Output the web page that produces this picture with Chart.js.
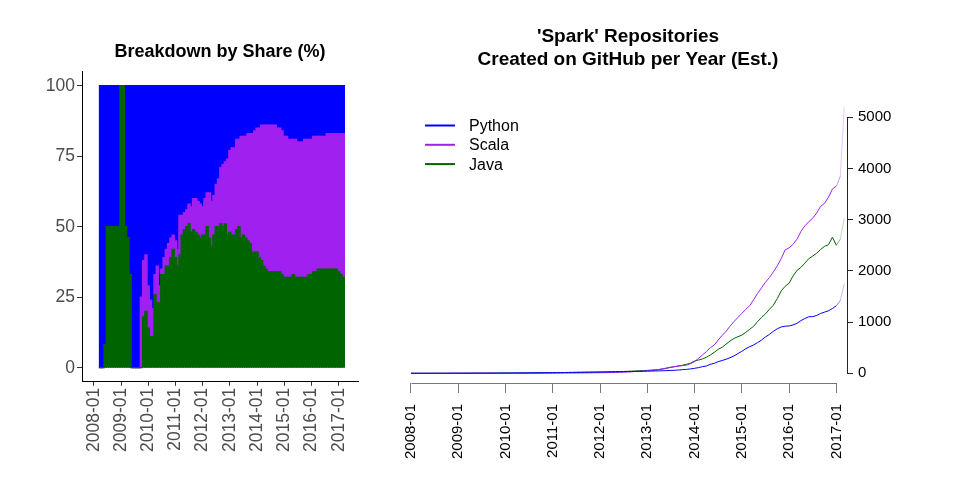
<!DOCTYPE html>
<html>
<head>
<meta charset="utf-8">
<script src="https://cdn.jsdelivr.net/npm/chart.js@4.4.1/dist/chart.umd.min.js"></script>
<style>
html,body{margin:0;padding:0;background:#fff;}
#wrap{position:relative;width:960px;height:480px;overflow:hidden;}
#c1{position:absolute;left:0;top:0;}
#c2{position:absolute;left:296px;top:0;}
</style>
</head>
<body>
<div id="wrap">
<canvas id="c1" width="370" height="480"></canvas>
<canvas id="c2" width="664" height="480"></canvas>
</div>
<script>
// ---------------- DATA ----------------
const months = [
 "2008-01","2008-02","2008-03","2008-04","2008-05","2008-06","2008-07","2008-08","2008-09","2008-10","2008-11","2008-12",
 "2009-01","2009-02","2009-03","2009-04","2009-05","2009-06","2009-07","2009-08","2009-09","2009-10","2009-11","2009-12",
 "2010-01","2010-02","2010-03","2010-04","2010-05","2010-06","2010-07","2010-08","2010-09","2010-10","2010-11","2010-12",
 "2011-01","2011-02","2011-03","2011-04","2011-05","2011-06","2011-07","2011-08","2011-09","2011-10","2011-11","2011-12",
 "2012-01","2012-02","2012-03","2012-04","2012-05","2012-06","2012-07","2012-08","2012-09","2012-10","2012-11","2012-12",
 "2013-01","2013-02","2013-03","2013-04","2013-05","2013-06","2013-07","2013-08","2013-09","2013-10","2013-11","2013-12",
 "2014-01","2014-02","2014-03","2014-04","2014-05","2014-06","2014-07","2014-08","2014-09","2014-10","2014-11","2014-12",
 "2015-01","2015-02","2015-03","2015-04","2015-05","2015-06","2015-07","2015-08","2015-09","2015-10","2015-11","2015-12",
 "2016-01","2016-02","2016-03","2016-04","2016-05","2016-06","2016-07","2016-08","2016-09","2016-10","2016-11","2016-12",
 "2017-01","2017-02","2017-03"
];
const yearTicks = ["2008-01","2009-01","2010-01","2011-01","2012-01","2013-01","2014-01","2015-01","2016-01","2017-01"];
const shareTicks = [0, 25, 50, 75, 100];
const countTicks = [0, 1000, 2000, 3000, 4000, 5000];

// Share (%) per month, 2008-04 .. 2017-03
const shareMonths = months.slice(3);
const javaShare = [
 0,0,8,50,50,50,50,50,50,100,
 100,50,46,33,0,0,0,0,0,18,
 20,14,11,11,26,23,23,33,33,36,
 36,39,42,39,36,40,47,49,50,51,
 48,49,48,47,46,47,47,50,46,43,
 47,50,50,51,50,51,47,48,47,47,
 49,50,46,47,46,45,44,41,41,41,
 39,38,36,35,34,34,34,34,34,34,
 33,32,32,32,32,33,32,32,32,32,
 32,32,33,33,34,34,35,35,35,35,
 35,35,35,35,35,34,33,32
];
const scalaShare = [
 0,0,0,0,0,0,0,0,0,0,
 0,0,0,0,0,0,0,0,25,20,
 20,15,13,10,7,13,6,2,6,6,
 8,7,5,6,6,14,7,6,6,7,
 9,11,12,12,12,10,13,12,16,16,
 14,15,17,20,22,22,27,29,31,31,
 32,31,36,35,36,38,39,42,43,44,
 46,48,50,51,52,52,52,52,51,51,
 51,50,50,49,49,48,49,48,48,48,
 49,49,48,48,48,48,47,47,47,47,
 48,48,48,48,48,49,50,51
];
const pythonShare = [
 100,100,92,50,50,50,50,50,50,0,
 0,50,54,67,100,100,100,100,75,62,
 60,71,76,79,67,64,71,65,61,58,
 56,54,53,55,58,46,46,45,44,42,
 43,40,40,41,42,43,40,38,38,41,
 39,35,33,29,28,27,26,23,22,22,
 19,19,18,18,18,17,17,17,16,15,
 15,14,14,14,14,14,14,14,15,15,
 16,18,18,19,19,19,19,20,20,20,
 19,19,19,19,18,18,18,18,18,18,
 17,17,17,17,17,17,17,17
];

// Repositories created per year (est.), monthly, 2008-01 .. 2017-03
const pythonRepos = [
 1,1,1,1,1,2,2,2,2,2,2,3,
 3,3,3,3,4,4,4,4,5,5,5,6,
 6,6,7,7,8,8,9,10,10,11,12,12,
 13,14,15,16,17,18,19,20,21,22,23,24,
 25,26,27,28,30,31,32,34,35,37,38,40,
 42,44,46,48,50,53,56,60,65,72,78,86,
 98,111,130,143,176,195,228,250,275,305,340,385,
 430,480,520,555,600,650,710,760,820,870,905,920,
 925,945,975,1030,1070,1105,1107,1130,1170,1195,1222,1265,
 1320,1420,1750
];
const scalaRepos = [
 0,0,0,0,0,0,0,0,0,0,0,0,
 0,0,0,0,0,0,0,0,0,0,0,0,
 0,0,0,1,1,1,1,2,2,2,3,3,
 3,4,4,5,5,6,6,7,8,9,10,11,
 12,13,14,16,18,20,22,26,30,36,42,46,
 50,57,65,75,90,105,120,132,142,150,160,190,
 228,293,358,423,501,553,651,740,820,920,1010,1090,
 1170,1250,1320,1440,1560,1670,1780,1870,1980,2100,2240,2410,
 2450,2520,2620,2770,2880,2960,3030,3130,3260,3320,3440,3600,
 3655,3850,5200
];
const javaRepos = [
 0,0,0,0,1,1,1,1,1,1,2,2,
 2,2,3,3,3,3,4,4,4,5,5,5,
 6,6,6,7,7,8,8,9,9,10,11,12,
 13,14,15,16,17,18,19,20,21,22,23,24,
 25,27,29,31,33,35,37,40,43,46,50,53,
 57,62,68,75,85,100,118,130,145,160,178,200,
 241,260,280,313,358,410,469,508,570,630,680,715,
 745,800,860,920,1010,1090,1160,1250,1330,1460,1610,1700,
 1760,1900,2010,2070,2150,2240,2290,2345,2420,2480,2510,2660,
 2500,2620,3030
];

// ---------------- HELPERS ----------------
function monthIndex(s){ const p = s.split('-').map(Number); return (p[0]-2008)*12 + (p[1]-1); }
function pts(cats, vals){ return vals.map((v,i)=>({x: monthIndex(cats[i]), y: v})); }
function rgba(hex, a){
  const n = parseInt(hex.slice(1),16);
  return `rgba(${(n>>16)&255},${(n>>8)&255},${n&255},${a})`;
}
const FONT = "'Liberation Sans', Arial, Helvetica, sans-serif";
const BLUE = '#0000FF', PURPLE = '#A020F0', GREEN = '#006400';

// ---------------- LEFT: share chart ----------------
new Chart(document.getElementById('c1'), {
  type: 'bar',
  data: {
    datasets: [
      {label:'Java',   data: pts(shareMonths, javaShare),   backgroundColor: GREEN},
      {label:'Scala',  data: pts(shareMonths, scalaShare),  backgroundColor: PURPLE},
      {label:'Python', data: pts(shareMonths, pythonShare), backgroundColor: BLUE}
    ]
  },
  options: {
    responsive: false, animation: false, devicePixelRatio: 1,
    layout: {padding: {left: 0, right: 12, top: 0, bottom: 0}},
    datasets: {bar: {barPercentage: 1, categoryPercentage: 1, borderWidth: 0, inflateAmount: 0.6}},
    plugins: {
      legend: {display: false}, tooltip: {enabled: false},
      title: {
        display: true, text: 'Breakdown by Share (%)', fullSize: false, color: '#000',
        font: {family: FONT, size: 18, weight: 'bold', lineHeight: 1.2},
        padding: {top: 41.2, bottom: 8.8}
      }
    },
    scales: {
      x: {
        type: 'linear', stacked: true, offset: false, min: -5.2, max: 116.5,
        afterBuildTicks: s => { s.ticks = yearTicks.map(t => ({value: monthIndex(t)})); },
        afterFit: s => { s.height = 98.2; },
        ticks: {autoSkip: false, minRotation: 90, maxRotation: 90, color: '#4d4d4d',
                font: {family: FONT, size: 17.5}, padding: 2,
                callback: (v, i) => yearTicks[i]},
        grid: {display: true, offset: false, drawOnChartArea: false, drawTicks: true, tickLength: 4, tickColor: '#333', color: '#333'},
        border: {display: true, color: '#000', width: 1}
      },
      y: {
        stacked: true, min: -5, max: 105,
        afterBuildTicks: s => { s.ticks = shareTicks.map(v => ({value: v})); },
        afterFit: s => { s.width = 82; },
        ticks: {color: '#4d4d4d', font: {family: FONT, size: 17.5}, padding: 2,
                callback: v => String(v)},
        grid: {display: true, drawOnChartArea: false, drawTicks: true, tickLength: 5, tickColor: '#333', color: '#333'},
        border: {display: true, color: '#000', width: 1}
      }
    }
  }
});

// ---------------- RIGHT: count chart ----------------
const partialAxes = {
  id: 'partialAxes',
  afterDraw(chart) {
    const {ctx, chartArea, scales: {x, y}} = chart;
    ctx.save();
    ctx.lineWidth = 1;
    ctx.strokeStyle = '#777';
    const yb = Math.round(chartArea.bottom) + 0.5;
    ctx.beginPath();
    ctx.moveTo(Math.round(x.getPixelForValue(monthIndex(yearTicks[0]))) + 0.5, yb);
    ctx.lineTo(Math.round(x.getPixelForValue(monthIndex(yearTicks[yearTicks.length-1]))) + 0.5, yb);
    ctx.stroke();
    ctx.strokeStyle = '#222';
    const xr = Math.round(chartArea.right) + 0.5;
    ctx.beginPath();
    ctx.moveTo(xr, Math.round(y.getPixelForValue(countTicks[0])) + 0.5);
    ctx.lineTo(xr, Math.round(y.getPixelForValue(countTicks[countTicks.length-1])) + 0.5);
    ctx.stroke();
    ctx.restore();
  }
};
const insetLegend = {
  id: 'insetLegend',
  afterDraw(chart, args, opts) {
    const {ctx, chartArea} = chart;
    ctx.save();
    chart.data.datasets.forEach((ds, i) => {
      const y = chartArea.top + opts.top + i * opts.rowHeight;
      const x0 = chartArea.left + opts.left;
      ctx.strokeStyle = ds.borderColor;
      ctx.lineWidth = 2;
      ctx.beginPath(); ctx.moveTo(x0, y); ctx.lineTo(x0 + opts.lineLength, y); ctx.stroke();
      ctx.fillStyle = '#000';
      ctx.font = opts.font;
      ctx.textBaseline = 'middle';
      ctx.textAlign = 'left';
      ctx.fillText(ds.label, x0 + opts.textOffset, y + 1);
    });
    ctx.restore();
  }
};
function fadeSeg(color) {
  return {
    borderColor: c => c.p0DataIndex >= 109 ? rgba(color, 0.25) : (c.p0DataIndex >= 108 ? rgba(color, 0.5) : undefined)
  };
}
new Chart(document.getElementById('c2'), {
  type: 'line',
  data: {
    datasets: [
      {label: 'Python', data: pts(months, pythonRepos), borderColor: BLUE,   borderWidth: 1, segment: fadeSeg(BLUE)},
      {label: 'Scala',  data: pts(months, scalaRepos),  borderColor: PURPLE, borderWidth: 1, segment: fadeSeg(PURPLE)},
      {label: 'Java',   data: pts(months, javaRepos),   borderColor: GREEN,  borderWidth: 1, segment: fadeSeg(GREEN)}
    ]
  },
  plugins: [partialAxes, insetLegend],
  options: {
    responsive: false, animation: false, devicePixelRatio: 1,
    layout: {padding: 0},
    elements: {point: {radius: 0}, line: {tension: 0}},
    plugins: {
      legend: {display: false}, tooltip: {enabled: false},
      insetLegend: {left: 31, top: 31.5, rowHeight: 19.3, lineLength: 30, textOffset: 44,
                    font: "16px 'Liberation Sans', Arial, Helvetica, sans-serif"},
      title: {
        display: true, color: '#000', fullSize: true,
        text: ["'Spark' Repositories", "Created on GitHub per Year (Est.)"],
        font: {family: FONT, size: 19, weight: 'bold', lineHeight: 1.2},
        padding: {top: 25.6, bottom: 22.8}
      }
    },
    scales: {
      x: {
        type: 'linear', min: -4.3, max: 110.7,
        afterBuildTicks: s => { s.ticks = yearTicks.map(t => ({value: monthIndex(t)})); },
        afterFit: s => { s.height = 97; },
        ticks: {autoSkip: false, minRotation: 90, maxRotation: 90, color: '#000',
                font: {family: FONT, size: 15}, padding: 11,
                callback: (v, i) => yearTicks[i]},
        grid: {display: true, drawOnChartArea: false, drawTicks: true, tickLength: 10, tickColor: '#777', color: '#777'},
        border: {display: false}
      },
      y: {
        position: 'right', min: -189, max: 5455,
        afterBuildTicks: s => { s.ticks = countTicks.map(v => ({value: v})); },
        afterFit: s => { s.width = 113; },
        ticks: {color: '#000', font: {family: FONT, size: 15}, padding: 5,
                callback: v => String(v)},
        grid: {display: true, drawOnChartArea: false, drawTicks: true, tickLength: 6, tickColor: '#222', color: '#222'},
        border: {display: false}
      },
      spacer: {
        type: 'linear', axis: 'y', position: 'left', display: true,
        afterFit: s => { s.width = 98; },
        ticks: {display: false},
        grid: {display: false},
        border: {display: false}
      }
    }
  }
});
</script>
</body>
</html>
